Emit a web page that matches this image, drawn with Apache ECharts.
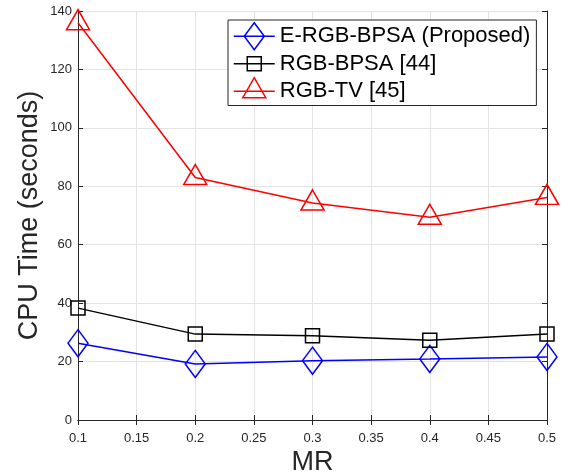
<!DOCTYPE html>
<html>
<head>
<meta charset="utf-8">
<script src="https://cdn.jsdelivr.net/npm/echarts@6/dist/echarts.min.js"></script>
<style>
html,body{margin:0;padding:0;background:#fff;}
#chart{width:568px;height:475px;}
</style>
</head>
<body>
<div id="chart"></div>
<script>
var mr = [0.1, 0.2, 0.3, 0.4, 0.5];
var eRgbBpsa = [26.3, 19.2, 20.3, 20.9, 21.6];
var rgbBpsa = [38.3, 29.4, 28.8, 27.3, 29.4];
var rgbTv = [136.0, 83.0, 74.3, 69.4, 76.2];
var seriesNames = ['E-RGB-BPSA (Proposed)', 'RGB-BPSA [44]', 'RGB-TV [45]'];
var seriesColors = ['#0000ff', '#000000', '#ff0000'];

function pairs(vals) { return mr.map(function (x, i) { return [x, vals[i]]; }); }

var axisColor = '#262626';
var gridColor = '#e3e3e3';
var font = 'Liberation Sans, Arial, sans-serif';

// legend icons: line through an open marker, drawn in a 41 x 27 box
var legendIcons = [
  'path://M0 13.5L41 13.5M20.5 0L30.5 13.5L20.5 27L10.5 13.5Z',
  'path://M20.5 0L20.5 0M20.5 27L20.5 27M0 13.5L41 13.5M13.5 6.5L27.5 6.5L27.5 20.5L13.5 20.5Z',
  'path://M20.5 27L20.5 27M0 13.5L41 13.5M9 20L32 20L20.5 0Z'
];

function mkSeries(name, vals, color, symbol, size, offset) {
  return {
    name: name, type: 'line', data: pairs(vals),
    symbol: symbol, symbolSize: size, symbolOffset: offset || [0, 0],
    lineStyle: { color: color, width: 1.5 },
    itemStyle: { color: 'rgba(255,255,255,0)', borderColor: color, borderWidth: 1.5 },
    emphasis: { disabled: true },
    animation: false, z: 3
  };
}

var chart = echarts.init(document.getElementById('chart'), null, { renderer: 'canvas' });
chart.setOption({
  backgroundColor: '#fff',
  animation: false,
  textStyle: { fontFamily: font },
  grid: { left: 78, right: 21, top: 11, bottom: 55, containLabel: false, outerBoundsMode: 'none' },
  legend: {
    orient: 'vertical',
    left: 228, top: 20,
    backgroundColor: '#fff',
    borderColor: axisColor, borderWidth: 1, borderRadius: 0,
    padding: [2, 6, 0, 5],
    itemWidth: 41, itemHeight: 27, itemGap: -1,
    selectedMode: false,
    textStyle: { fontSize: 22, lineHeight: 26, color: '#000', fontFamily: font },
    data: seriesNames.map(function (n, i) {
      return {
        name: n, icon: legendIcons[i],
        itemStyle: { color: 'rgba(255,255,255,0)', borderColor: seriesColors[i], borderWidth: 1.5 }
      };
    })
  },
  xAxis: [{
    type: 'value', min: 0.1, max: 0.5, interval: 0.05,
    name: 'MR', nameLocation: 'middle', nameGap: 29, nameMoveOverlap: false,
    nameTextStyle: { fontSize: 27, color: axisColor, fontFamily: font },
    axisLine: { show: true, lineStyle: { color: axisColor, width: 1 } },
    axisTick: { show: true, inside: true, length: 5, lineStyle: { color: axisColor } },
    axisLabel: { fontSize: 13, color: axisColor, margin: 12,
      formatter: function (v) { return String(parseFloat(v.toFixed(2))); } },
    splitLine: { show: true, lineStyle: { color: gridColor, width: 1 } }
  }, {
    type: 'value', position: 'top', min: 0.1, max: 0.5, interval: 0.05,
    axisLine: { show: true, lineStyle: { color: axisColor, width: 1 } },
    axisTick: { show: true, inside: true, length: 5, lineStyle: { color: axisColor } },
    axisLabel: { show: false }, splitLine: { show: false }
  }],
  yAxis: [{
    type: 'value', min: 0, max: 140, interval: 20,
    name: 'CPU Time (seconds)', nameLocation: 'middle', nameGap: 35, nameMoveOverlap: false,
    nameTextStyle: { fontSize: 27, color: axisColor, fontFamily: font },
    axisLine: { show: true, lineStyle: { color: axisColor, width: 1 } },
    axisTick: { show: true, inside: true, length: 5, lineStyle: { color: axisColor } },
    axisLabel: { fontSize: 13, color: axisColor, margin: 6 },
    splitLine: { show: true, lineStyle: { color: gridColor, width: 1 } }
  }, {
    type: 'value', position: 'right', min: 0, max: 140, interval: 20,
    axisLine: { show: true, lineStyle: { color: axisColor, width: 1 } },
    axisTick: { show: true, inside: true, length: 5, lineStyle: { color: axisColor } },
    axisLabel: { show: false }, splitLine: { show: false }
  }],
  series: [
    mkSeries(seriesNames[0], eRgbBpsa, seriesColors[0], 'diamond', [20, 27]),
    mkSeries(seriesNames[1], rgbBpsa, seriesColors[1], 'rect', [14, 14]),
    mkSeries(seriesNames[2], rgbTv, seriesColors[2], 'triangle', [23, 20], [0, -3])
  ]
});
</script>
</body>
</html>
